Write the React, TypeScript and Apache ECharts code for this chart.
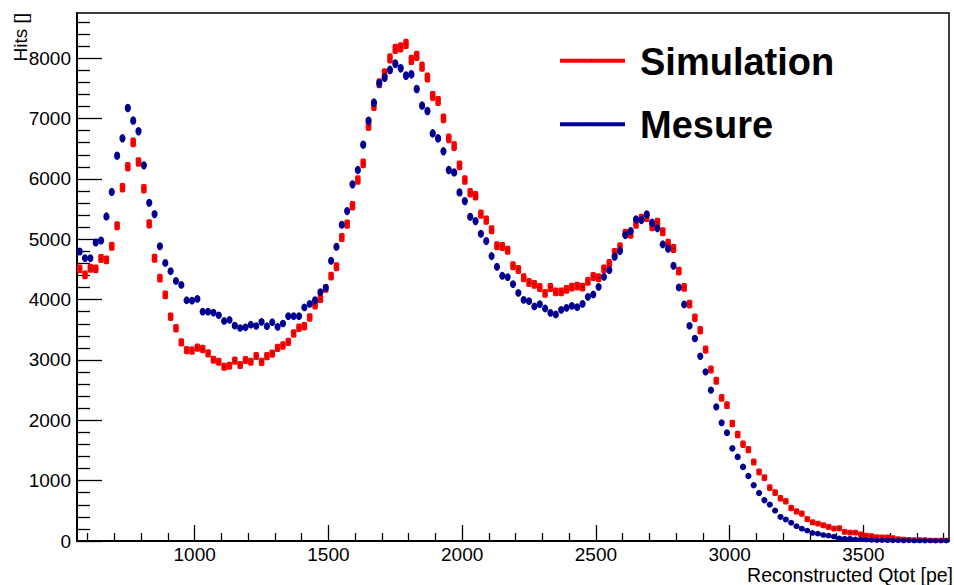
import React, { useEffect, useRef } from "react";
import * as echarts from "echarts";

// Histogram binning (x axis: Reconstructed Qtot [pe])
const binStart = 560;
const binWidth = 20;

// Simulation (red) – hits per bin
const simulation = [
  4510, 4410, 4521, 4510, 4681, 4659, 4886, 5224, 5854, 6203,
  6607, 6280, 5838, 5257, 4687, 4355, 4078, 3718, 3525, 3292,
  3165, 3154, 3204, 3182, 3110, 3004, 2971, 2888, 2905, 2988,
  2916, 2999, 2970, 3066, 2969, 3063, 3107, 3201, 3240, 3301,
  3439, 3533, 3560, 3704, 3909, 4014, 4185, 4389, 4544, 5030,
  5252, 5556, 5981, 6258, 6877, 7208, 7585, 7750, 7999, 8154,
  8182, 8237, 7972, 8038, 7861, 7682, 7374, 7291, 7004, 6672,
  6545, 6225, 5981, 5771, 5721, 5417, 5318, 5158, 4892, 4881,
  4820, 4561, 4500, 4362, 4284, 4251, 4201, 4102, 4201, 4129,
  4129, 4168, 4207, 4223, 4207, 4301, 4384, 4362, 4510, 4600,
  4782, 4876, 5097, 5086, 5252, 5346, 5363, 5208, 5280, 5125,
  4932, 4849, 4473, 4202, 3925, 3699, 3494, 3173, 2842, 2654,
  2372, 2250, 1946, 1764, 1603, 1515, 1310, 1144, 1050, 884,
  802, 708, 658, 547, 492, 453, 365, 310, 288, 260,
  233, 205, 211, 150, 139, 139, 111, 89, 83, 67,
  61, 61, 50, 34, 28, 23, 17, 17, 17, 12,
  12, 12, 12,
];

// Mesure (blue) – hits per bin
const mesure = [
  4798, 4687, 4687, 4947, 4980, 5379, 5783, 6386, 6673, 7177,
  6967, 6790, 6225, 5605, 5417, 4886, 4609, 4471, 4310, 4244,
  3990, 3984, 4012, 3801, 3801, 3785, 3741, 3647, 3663, 3569,
  3530, 3541, 3585, 3563, 3632, 3560, 3626, 3549, 3604, 3726,
  3726, 3726, 3870, 3931, 3991, 4124, 4196, 4644, 4876, 5241,
  5468, 5910, 6148, 6568, 6966, 7264, 7585, 7679, 7806, 7911,
  7834, 7712, 7734, 7491, 7215, 7126, 6755, 6672, 6457, 6147,
  6108, 5777, 5633, 5373, 5301, 5091, 4970, 4721, 4544, 4395,
  4373, 4257, 4113, 3997, 3975, 3886, 3925, 3853, 3781, 3754,
  3831, 3864, 3897, 3875, 3931, 4047, 4085, 4212, 4378, 4489,
  4710, 4804, 5070, 5136, 5330, 5319, 5413, 5275, 5181, 4916,
  4844, 4562, 4202, 3920, 3566, 3356, 3063, 2803, 2499, 2222,
  1960, 1795, 1535, 1393, 1227, 1078, 924, 796, 675, 603,
  505, 399, 357, 302, 246, 205, 172, 133, 122, 100,
  89, 72, 45, 39, 39, 28, 28, 23, 17, 12,
  12, 10, 8, 10, 6, 8, 5, 6, 4, 5,
  3, 4, 3,
];

// Axis ticks
const xMin = 560;
const xMax = 3820;
const yMin = 0;
const yMax = 8750;
const xMajorTicks = [1000, 1500, 2000, 2500, 3000, 3500];
const xMinorTicks = [
  600, 700, 800, 900, 1100, 1200, 1300, 1400, 1600, 1700, 1800, 1900,
  2100, 2200, 2300, 2400, 2600, 2700, 2800, 2900, 3100, 3200, 3300, 3400,
  3600, 3700, 3800,
];
const yMajorTicks = [0, 1000, 2000, 3000, 4000, 5000, 6000, 7000, 8000];
const yMinorTicks = [
  200, 400, 600, 800, 1200, 1400, 1600, 1800, 2200, 2400, 2600, 2800,
  3200, 3400, 3600, 3800, 4200, 4400, 4600, 4800, 5200, 5400, 5600, 5800,
  6200, 6400, 6600, 6800, 7200, 7400, 7600, 7800, 8200, 8400, 8600,
];

const RED = "#ff0000";
const BLUE = "#000099";
const FONT = "'Liberation Sans', Arial, Helvetica, sans-serif";

export default function App() {
  const ref = useRef<HTMLDivElement>(null);

  useEffect(() => {
    if (!ref.current) return;
    const chart = echarts.init(ref.current, undefined, { renderer: "svg" });

    const centers = simulation.map((_, i) => binStart + binWidth * (i + 0.5));
    const simData = centers.map((x, i) => [x, simulation[i]]);
    const mesData = centers.map((x, i) => [x, mesure[i]]);

    const plain = (v: number) => String(v);

    const baseX = {
      type: "value" as const,
      min: xMin,
      max: xMax,
      position: "bottom" as const,
      splitLine: { show: false },
    };
    const baseY = {
      type: "value" as const,
      min: yMin,
      max: yMax,
      position: "left" as const,
      splitLine: { show: false },
    };

    chart.setOption({
      animation: false,
      backgroundColor: "#ffffff",
      grid: {
        left: 77,
        top: 13,
        width: 872,
        height: 528,
        show: true,
        borderColor: "#000",
        borderWidth: 1.5,
        backgroundColor: "transparent",
      },
      xAxis: [
        {
          ...baseX,
          axisLine: { show: true, lineStyle: { color: "#000", width: 2 } },
          axisTick: {
            show: true,
            inside: true,
            length: 16,
            customValues: xMajorTicks,
            lineStyle: { color: "#000", width: 1.3 },
          },
          axisLabel: {
            show: true,
            customValues: xMajorTicks,
            formatter: plain,
            margin: 4,
            color: "#000",
            fontSize: 19,
            fontFamily: FONT,
          },
        },
        {
          ...baseX,
          axisLine: { show: false },
          axisTick: {
            show: true,
            inside: true,
            length: 8,
            customValues: xMinorTicks,
            lineStyle: { color: "#000", width: 1.3 },
          },
          axisLabel: { show: false },
        },
      ],
      yAxis: [
        {
          ...baseY,
          axisLine: { show: true, lineStyle: { color: "#000", width: 2 } },
          axisTick: {
            show: true,
            inside: true,
            length: 25,
            customValues: yMajorTicks,
            lineStyle: { color: "#000", width: 1.3 },
          },
          axisLabel: {
            show: true,
            customValues: yMajorTicks,
            formatter: plain,
            margin: 6,
            color: "#000",
            fontSize: 19,
            fontFamily: FONT,
          },
        },
        {
          ...baseY,
          axisLine: { show: false },
          axisTick: {
            show: true,
            inside: true,
            length: 13,
            customValues: yMinorTicks,
            lineStyle: { color: "#000", width: 1.3 },
          },
          axisLabel: { show: false },
        },
      ],
      series: [
        {
          name: "Simulation",
          type: "scatter",
          xAxisIndex: 0,
          yAxisIndex: 0,
          data: simData,
          symbol: "roundRect",
          symbolSize: (v: number[]) => [5.6, 5 + 0.058 * Math.sqrt(v[1])],
          itemStyle: { color: RED, opacity: 1 },
          z: 2,
        },
        {
          name: "Mesure",
          type: "scatter",
          xAxisIndex: 0,
          yAxisIndex: 0,
          data: mesData,
          symbol: "circle",
          symbolSize: (v: number[]) => [6.2, 5.2 + 0.04 * Math.sqrt(v[1])],
          itemStyle: { color: BLUE, opacity: 1 },
          z: 3,
        },
        {
          name: "SimulationMarker",
          type: "scatter",
          xAxisIndex: 0,
          yAxisIndex: 0,
          data: simData,
          symbol: "rect",
          symbolSize: 1.3,
          itemStyle: { color: "#000", opacity: 0.7 },
          silent: true,
          z: 4,
        },
        {
          name: "MesureMarker",
          type: "scatter",
          xAxisIndex: 0,
          yAxisIndex: 0,
          data: mesData,
          symbol: "rect",
          symbolSize: 1.3,
          itemStyle: { color: "#000", opacity: 0.7 },
          silent: true,
          z: 5,
        },
      ],
      graphic: [
        {
          type: "text",
          x: 20,
          y: 13,
          rotation: Math.PI / 2,
          style: {
            text: "Hits []",
            align: "right",
            verticalAlign: "middle",
            fontSize: 19,
            fontFamily: FONT,
            fill: "#000",
          },
        },
        {
          type: "text",
          x: 953,
          y: 575,
          style: {
            text: "Reconstructed Qtot [pe]",
            align: "right",
            verticalAlign: "middle",
            fontSize: 19.5,
            fontFamily: FONT,
            fill: "#000",
          },
        },
        {
          type: "line",
          shape: { x1: 560, y1: 60.7, x2: 625, y2: 60.7 },
          style: { stroke: RED, lineWidth: 4 },
        },
        {
          type: "rect",
          shape: { x: 590.3, y: 60, width: 1.3, height: 1.3 },
          style: { fill: "#000", opacity: 0.7 },
        },
        {
          type: "text",
          x: 640,
          y: 62,
          style: {
            text: "Simulation",
            align: "left",
            verticalAlign: "middle",
            fontSize: 38,
            fontWeight: "bold",
            fontFamily: FONT,
            fill: "#000",
          },
        },
        {
          type: "line",
          shape: { x1: 560, y1: 124.3, x2: 625, y2: 124.3 },
          style: { stroke: BLUE, lineWidth: 4 },
        },
        {
          type: "rect",
          shape: { x: 590.3, y: 123.6, width: 1.3, height: 1.3 },
          style: { fill: "#000", opacity: 0.7 },
        },
        {
          type: "text",
          x: 640,
          y: 125,
          style: {
            text: "Mesure",
            align: "left",
            verticalAlign: "middle",
            fontSize: 38,
            fontWeight: "bold",
            fontFamily: FONT,
            fill: "#000",
          },
        },
      ],
    });

    return () => {
      chart.dispose();
    };
  }, []);

  return (
    <div
      ref={ref}
      style={{
        position: "fixed",
        left: 0,
        top: 0,
        width: 954,
        height: 585,
        background: "#fff",
      }}
    />
  );
}
